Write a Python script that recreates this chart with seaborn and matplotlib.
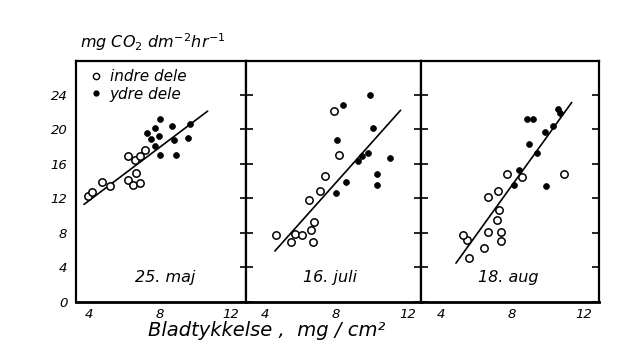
import numpy as np
import pandas as pd
import matplotlib
matplotlib.use("Agg")
import matplotlib.pyplot as plt
from matplotlib.lines import Line2D
import seaborn as sns

# ---- data ----
panel_names = ["25. maj", "16. juli", "18. aug"]
legend_labels = ["indre dele", "ydre dele"]
y_ticks = [0, 4, 8, 12, 16, 20, 24]
x_major = [4, 8, 12]
x_minor = [6, 10]

maj_inner_x = [3.94, 4.14, 4.70, 5.17, 6.20, 6.58, 6.86, 7.15, 6.64, 6.20, 6.45, 6.86]
maj_inner_y = [12.3, 12.7, 13.9, 13.4, 16.9, 16.4, 16.9, 17.6, 14.9, 14.1, 13.6, 13.8]
maj_outer_x = [7.99, 7.71, 7.28, 8.66, 9.69, 7.95, 7.47, 7.71, 8.80, 9.59, 7.99, 8.90]
maj_outer_y = [21.2, 20.2, 19.6, 20.4, 20.6, 19.2, 18.9, 18.1, 18.7, 19.0, 17.0, 17.0]
maj_fit_x = [3.70, 10.69]
maj_fit_y = [11.3, 22.1]

jul_inner_x = [4.60, 5.46, 5.69, 6.10, 6.58, 6.77, 6.71, 6.47, 7.09, 7.37, 8.16, 7.89]
jul_inner_y = [7.8, 7.0, 7.9, 7.8, 8.3, 9.3, 7.0, 11.8, 12.8, 14.6, 17.0, 22.1]
jul_outer_x = [8.37, 9.90, 10.08, 8.06, 9.77, 9.43, 9.21, 11.02, 10.28, 10.31, 8.53, 7.97]
jul_outer_y = [22.8, 24.0, 20.1, 18.7, 17.3, 16.9, 16.3, 16.7, 14.8, 13.5, 13.9, 12.6]
jul_fit_x = [4.56, 11.62]
jul_fit_y = [5.9, 22.2]

aug_inner_x = [5.59, 6.42, 5.44, 5.25, 6.66, 7.35, 7.35, 7.16, 7.28, 6.66, 7.22, 7.69, 8.53, 10.91]
aug_inner_y = [5.1, 6.2, 7.2, 7.7, 8.1, 8.1, 7.1, 9.5, 10.7, 12.2, 12.8, 14.8, 14.5, 14.8]
aug_outer_x = [8.10, 8.38, 9.38, 8.96, 8.81, 9.19, 9.84, 10.28, 10.69, 10.59, 9.90]
aug_outer_y = [13.5, 15.3, 17.2, 18.3, 21.2, 21.2, 19.7, 20.4, 21.9, 22.3, 13.4]
aug_fit_x = [4.84, 11.34]
aug_fit_y = [4.5, 23.1]

panels = [
    (maj_inner_x, maj_inner_y, maj_outer_x, maj_outer_y, maj_fit_x, maj_fit_y),
    (jul_inner_x, jul_inner_y, jul_outer_x, jul_outer_y, jul_fit_x, jul_fit_y),
    (aug_inner_x, aug_inner_y, aug_outer_x, aug_outer_y, aug_fit_x, aug_fit_y),
]

# ---- layout ----
sns.set_style("white")
plt.rcParams["font.family"] = ["DejaVu Sans"]
plt.rcParams["mathtext.fontset"] = "dejavusans"
for k in ["text.color", "axes.labelcolor", "xtick.color", "ytick.color", "axes.edgecolor"]:
    plt.rcParams[k] = "black"

W, H = 643, 354
fig = plt.figure(figsize=(6.43, 3.54), dpi=100)
bottom_px, top_px = 302, 61
ax_px = [(75.7, 245.7), (245.7, 420.7), (420.7, 599.3)]
xlims = [(3.23, 12.84), (2.92, 12.75), (2.86, 12.89)]
label_pos = [0.525, 0.48, 0.49]

for i, (l, r) in enumerate(ax_px):
    ax = fig.add_axes([l / W, 1 - bottom_px / H, (r - l) / W, (bottom_px - top_px) / H])
    ix, iy, ox, oy, fx, fy = panels[i]
    sns.lineplot(x=fx, y=fy, ax=ax, color="black", linewidth=1.2, zorder=2)
    sns.scatterplot(x=ix, y=iy, ax=ax, marker="o", s=28, facecolor="white",
                    edgecolor="black", linewidth=1.1, zorder=3)
    sns.scatterplot(x=ox, y=oy, ax=ax, marker="o", s=18, color="black",
                    edgecolor="black", linewidth=0.5, zorder=3)
    ax.set_xlim(*xlims[i])
    ax.set_ylim(0, 27.9)
    ax.set_xticks(x_major)
    ax.set_xticks(x_minor, minor=True)
    ax.set_xticklabels([str(v) for v in x_major], fontstyle="italic", fontsize=9.5)
    ax.set_yticks(y_ticks)
    if i == 0:
        ax.set_yticklabels([str(v) for v in y_ticks], fontstyle="italic", fontsize=9.5)
        ax.tick_params(axis="y", which="major", direction="inout", length=8,
                       width=1.2, right=True, pad=2)
    else:
        ax.set_yticklabels([])
        ax.tick_params(axis="y", which="major", direction="in", length=5,
                       width=1.2, right=True, left=True)
    ax.tick_params(axis="x", which="both", direction="inout", length=7,
                   width=1.2, pad=1)
    for s in ax.spines.values():
        s.set_visible(True)
        s.set_color("black")
        s.set_linewidth(1.6)
    ax.spines["bottom"].set_linewidth(2.0)
    ax.set_xlabel("")
    ax.set_ylabel("")
    ax.text(label_pos[i], 0.10, panel_names[i], transform=ax.transAxes,
            ha="center", va="center", fontsize=11.5, fontstyle="italic")
    if i == 0:
        handles = [
            Line2D([], [], linestyle="none", marker="o", markersize=4.5,
                   markerfacecolor="white", markeredgecolor="black", markeredgewidth=1.0),
            Line2D([], [], linestyle="none", marker="o", markersize=3.5,
                   markerfacecolor="black", markeredgecolor="black"),
        ]
        leg = ax.legend(handles, legend_labels, loc="upper left", frameon=False,
                        bbox_to_anchor=(0.02, 1.01), handlelength=0.8,
                        handletextpad=0.5, labelspacing=0.15, borderpad=0.2,
                        prop={"style": "italic", "size": 11})

fig.text(80 / W, 1 - 42 / H, r"$mg\ CO_2\ dm^{-2}hr^{-1}$", fontsize=11.5,
         ha="left", va="center")
fig.text(267 / W, 1 - 330 / H, "Bladtykkelse ,  mg / cm²", fontsize=14,
         fontstyle="italic", ha="center", va="center")

fig.savefig("out.png", dpi=100, facecolor="white")
